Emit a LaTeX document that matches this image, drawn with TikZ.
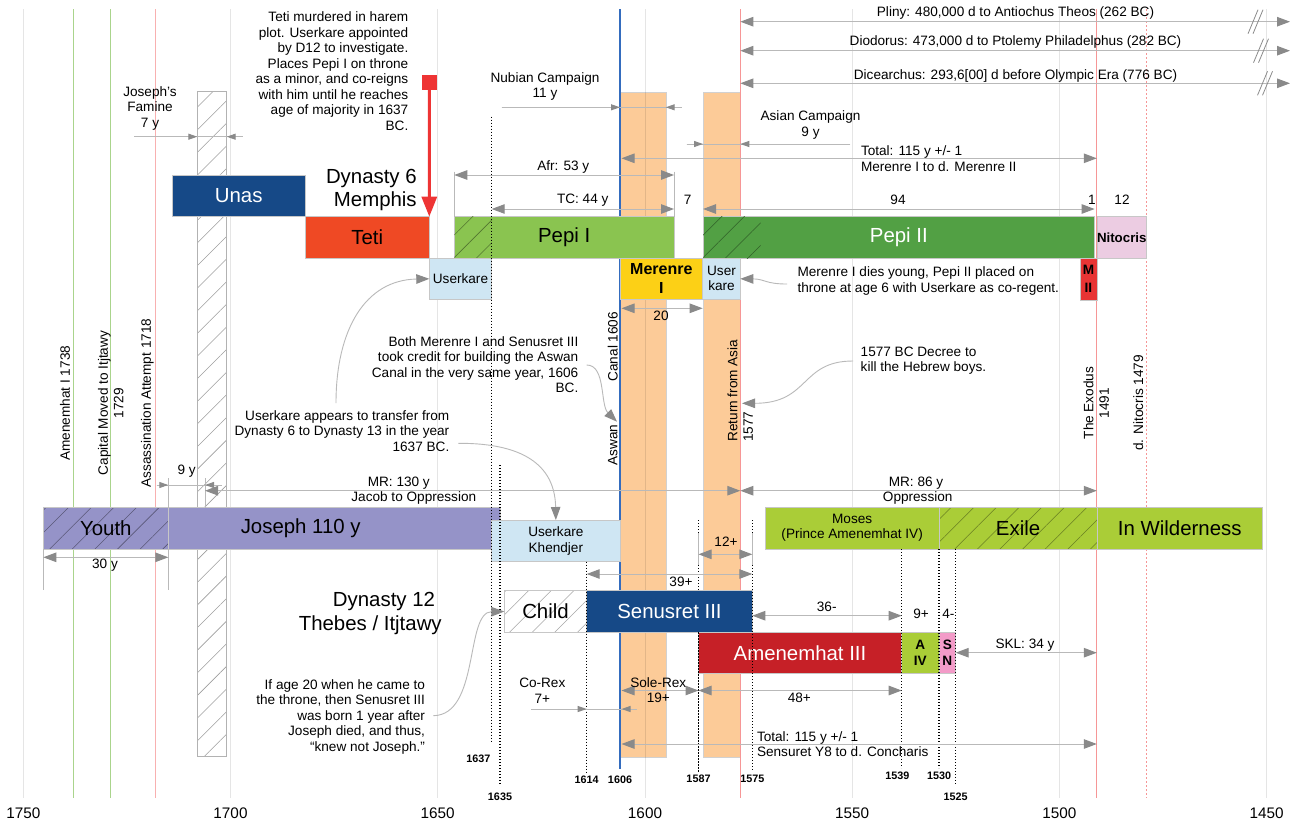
\documentclass[tikz,border=0pt]{standalone}
\usepackage{fontspec}
\setmainfont{Liberation Sans}
\usetikzlibrary{arrows.meta,patterns.meta}

\definecolor{lineG}{RGB}{185,185,185}
\definecolor{headG}{RGB}{138,138,138}
\definecolor{orangeC}{RGB}{252,203,152}
\definecolor{blueL}{RGB}{52,108,190}
\definecolor{redL}{RGB}{246,150,150}
\definecolor{greenL}{RGB}{170,212,140}
\definecolor{unasC}{RGB}{22,73,135}
\definecolor{tetiC}{RGB}{239,73,36}
\definecolor{pepiC}{RGB}{138,196,80}
\definecolor{pepiIIC}{RGB}{82,160,68}
\definecolor{nitC}{RGB}{236,204,226}
\definecolor{ltblue}{RGB}{207,230,243}
\definecolor{merC}{RGB}{252,208,22}
\definecolor{mIIC}{RGB}{232,52,52}
\definecolor{purpC}{RGB}{149,147,200}
\definecolor{mosesC}{RGB}{170,205,55}
\definecolor{amenC}{RGB}{198,32,39}
\definecolor{snC}{RGB}{243,155,200}
\definecolor{tetiArr}{RGB}{238,52,52}

\newcommand\fsm{\fontsize{13.6}{15.5}\selectfont}
\newcommand\fbig{\fontsize{20.4}{23.7}\selectfont}
\newcommand\fax{\fontsize{15.3}{17}\selectfont}
\newcommand\fyr{\fontsize{10.8}{12}\selectfont\bfseries}
\newcommand\fmer{\fontsize{16}{19}\selectfont\bfseries}

% a reign box given by its corners (x1,y1) (x2,y2)
\newcommand\tbox[7][]{%
  \pgfmathsetmacro\tbW{#5-#3}%
  \pgfmathsetmacro\tbH{#6-#4}%
  \pgfmathsetmacro\tbX{(#3+#5)/2}%
  \pgfmathsetmacro\tbY{(#4+#6)/2}%
  \node[box,minimum width=\tbW pt,minimum height=\tbH pt,#1] (#2) at (\tbX,\tbY) {#7};%
}

\tikzset{
  every node/.style={inner sep=0pt, outer sep=0pt, font=\fsm},
  box/.style={draw=black!22, line width=0.5pt, align=center},
  bigtip/.tip={Triangle[length=13pt,width=9.5pt,color=headG]},
  smtip/.tip={Triangle[length=9pt,width=6pt,color=headG]},
  dimline/.style={draw=lineG, line width=1pt},
  note/.style={draw=lineG, line width=0.9pt},
  dotline/.style={draw=black, line width=1.5pt, dash pattern=on 1.4pt off 1.6pt},
  hatchpat/.style={pattern={Lines[angle=45,distance=16pt,line width=0.55pt]}, pattern color=#1},
  tick/.style={draw=lineG, line width=1pt},
  yr/.style={font=\fyr},
}

\begin{document}
\begin{tikzpicture}[x=1pt,y=-1pt]
\fill[white] (0,0) rectangle (1292,825);
\path[use as bounding box] (0,0) rectangle (1292,825);

% campaign columns
\filldraw[fill=orangeC, draw=black!18, line width=0.4pt] (620,91.7) rectangle (665.7,756.7);
\filldraw[fill=orangeC, draw=black!18, line width=0.4pt] (703,91.7) rectangle (740.3,756.7);

% year grid
\foreach \gx in {23.3,230.5,437.7,645,852.2,1059.4,1266.7}
  \draw[black, draw opacity=0.1, line width=0.9pt] (\gx,9) -- (\gx,798);

% event lines
\draw[greenL, line width=0.9pt] (73,9) -- (73,798);
\draw[greenL, line width=0.9pt] (110.3,9) -- (110.3,798);
\draw[redL!75, line width=0.9pt] (155.9,9) -- (155.9,798);
\draw[redL, line width=0.9pt] (740.3,9) -- (740.3,798);
\draw[redL, line width=0.9pt] (1096.8,9) -- (1096.8,798);
\draw[redL, line width=0.9pt, dash pattern=on 2pt off 2pt] (1146.7,9) -- (1146.7,798);
\draw[blueL, line width=2.8pt] (620,9) -- (620,769);

% famine column
\draw[draw=black!30, line width=0.6pt, preaction={fill=white}, hatchpat=black!38] (197.3,91.7) rectangle (226.7,756.7);

% Dynasty 6 reigns
\tbox[fill=unasC, text=white, font=\fbig]{unas}{172.3}{175}{305}{216.7}{Unas}
\tbox[fill=tetiC, font=\fbig]{teti}{305}{216.7}{429.3}{258.3}{Teti}
\tbox[fill=pepiC, font=\fbig]{pepiI}{454.3}{216.7}{674}{258.3}{Pepi I}
\fill[hatchpat=black!40!pepiC] (454.3,216.7) rectangle (491.7,258.3);
\tbox[fill=pepiIIC, text=white, font=\fbig]{pepiII}{703}{216.7}{1094.6}{258.3}{Pepi II}
\fill[hatchpat=black!40!pepiIIC] (703,216.7) rectangle (760.7,258.3);
\tbox[fill=nitC, font={\fontsize{13.3}{15}\selectfont\bfseries}]{nitocris}{1096.8}{216.7}{1146.7}{258.3}{Nitocris}
\tbox[fill=ltblue]{userkareA}{429.3}{258.3}{491.7}{299.3}{Userkare}
\tbox[fill=merC, font=\fmer]{merenre}{620}{258.3}{702.7}{299.3}{Merenre\\I}
\tbox[fill=ltblue, font={\fontsize{13.6}{15}\selectfont}]{userkareB}{702.7}{258.3}{740.3}{299.3}{User\\kare}
\tbox[fill=mIIC, font={\fontsize{13.6}{18}\selectfont\bfseries}]{merII}{1080}{258.3}{1096.8}{300}{M\\II}

% Joseph and Moses
\tbox[preaction={fill=purpC}, hatchpat=black!40!purpC, font=\fbig]{youth}{43.3}{507.7}{168.3}{549}{Youth}
\tbox[fill=purpC]{joseph}{168.3}{507.7}{500}{549}{}
\node[font=\fbig] (josephT) at (300.7,528.3) {Joseph 110 y};
\tbox[fill=ltblue, font={\fontsize{13.6}{16}\selectfont}]{khendjer}{491.7}{520}{620}{561}{Userkare\\Khendjer}
\tbox[fill=mosesC, font={\fontsize{13.6}{15}\selectfont}]{moses}{765}{507.3}{939.3}{549}{Moses\\(Prince Amenemhat IV)}
\tbox[preaction={fill=mosesC}, hatchpat=black!38!mosesC, font=\fbig]{exile}{939.3}{507.3}{1096.8}{549}{Exile}
\tbox[fill=mosesC, font=\fbig]{wild}{1096.8}{507.3}{1262.7}{549}{In Wilderness}

% Dynasty 12 reigns
\tbox[preaction={fill=white}, hatchpat=black!35, font=\fbig]{child}{504.3}{590.7}{586.7}{632.3}{Child}
\tbox[fill=unasC, text=white, font=\fbig]{senusret}{586.7}{590.7}{752.3}{632.3}{Senusret III}
\tbox[fill=amenC, text=white, font=\fbig]{amenIII}{698.3}{632.3}{901.7}{673.3}{Amenemhat III}
\tbox[fill=mosesC, font={\fontsize{13.6}{15.7}\selectfont\bfseries}]{aIV}{901.7}{632.3}{939}{673.3}{A\\IV}
\tbox[fill=snC, font={\fontsize{13.6}{15.7}\selectfont\bfseries}]{sn}{939}{632.3}{955.7}{673.3}{S\\N}

% dated dotted markers
\draw[dotline] (491.7,116.7) -- (491.7,742.7);
\draw[dotline] (500,465) -- (500,785);
\draw[dotline] (586.7,561.7) -- (586.7,773);
\draw[dotline] (698.5,520) -- (698.5,590.7);
\draw[dotline] (698.5,632.3) -- (698.5,773);
\draw[dotline] (752.3,520) -- (752.3,770);
\draw[dotline] (901.7,549) -- (901.7,768);
\draw[dotline] (939,549) -- (939,768);
\draw[dotline] (955.7,549) -- (955.7,785);

\node[yr] (y1637) at (478.3,758.3) {1637};
\node[yr] (y1635) at (500,796.7) {1635};
\node[yr] (y1614) at (586.7,779.3) {1614};
\node[yr] (y1606) at (620,779.3) {1606};
\node[yr] (y1587) at (698.5,778.7) {1587};
\node[yr] (y1575) at (752.3,779.3) {1575};
\node[yr] (y1539) at (897.3,775.3) {1539};
\node[yr] (y1530) at (939,775.3) {1530};
\node[yr] (y1525) at (955.7,796.3) {1525};

% tick lines of the measures
\draw[tick] (454.3,171.7) -- (454.3,216.7);
\draw[tick] (674,171.7) -- (674,216.7);
\draw[tick] (168.3,478.3) -- (168.3,507.7);
\draw[tick] (205,478.3) -- (205,507.7);
\draw[tick] (168.3,549) -- (168.3,590);
\draw[tick] (43.3,549) -- (43.3,590);
\draw[tick] (698.5,533) -- (698.5,565);
\draw[tick] (752.3,533) -- (752.3,565);

% measure end points
\coordinate (plinyL) at (740.3,21.7);  \coordinate (plinyR) at (1290,21.7);
\coordinate (diodL) at (740.3,50.7);   \coordinate (diodR) at (1290,50.7);
\coordinate (dicL) at (740.3,83.3);    \coordinate (dicR) at (1290,83.3);
\coordinate (nubA) at (501.7,107.3); \coordinate (nubB) at (620,107.3);
\coordinate (nubC) at (665.7,107.3); \coordinate (nubD) at (681.7,107.3);
\coordinate (famA) at (134.3,136.7); \coordinate (famB) at (197.3,136.7);
\coordinate (famC) at (226.7,136.7); \coordinate (famD) at (242.7,136.7);
\coordinate (asA) at (686.7,144); \coordinate (asB) at (703,144);
\coordinate (asC) at (740.3,144); \coordinate (asD) at (850.4,144);
\coordinate (totL) at (621.5,158.3); \coordinate (totR) at (1096.8,158.3);
\coordinate (afrL) at (454.3,175); \coordinate (afrR) at (674,175);
\coordinate (tcL) at (491.7,209); \coordinate (tcR) at (674,209);
\coordinate (p2L) at (703,209); \coordinate (p2R) at (1094.6,209);
\coordinate (twL) at (621.5,308.3); \coordinate (twR) at (702.7,308.3);
\coordinate (nyA) at (156.7,485); \coordinate (nyB) at (168.3,485);
\coordinate (nyC) at (205,485); \coordinate (nyD) at (221.7,485);
\coordinate (mr1L) at (205,490.7); \coordinate (mr1R) at (740.3,490.7);
\coordinate (mr2L) at (740.3,490.7); \coordinate (mr2R) at (1096.8,490.7);
\coordinate (thL) at (43.3,557.3); \coordinate (thR) at (168.3,557.3);
\coordinate (twpL) at (698.5,554.3); \coordinate (twpR) at (752.3,554.3);
\coordinate (tnL) at (586.7,574); \coordinate (tnR) at (752.3,574);
\coordinate (tsL) at (752.3,615.7); \coordinate (tsR) at (901.7,615.7);
\coordinate (sklL) at (955.7,652.7); \coordinate (sklR) at (1096.8,652.7);
\coordinate (srL) at (621.5,690.5); \coordinate (srR) at (698.5,690.5);
\coordinate (feL) at (698.5,690.5); \coordinate (feR) at (901.7,690.5);
\coordinate (crA) at (531,709); \coordinate (crB) at (586.7,709);
\coordinate (crC) at (621.5,709); \coordinate (crD) at (636.7,709);
\coordinate (tbL) at (621.5,744); \coordinate (tbR) at (1096.8,744);

% ancient day counts
\draw[dimline, arrows={bigtip-bigtip}] (plinyL) -- (plinyR);
\draw[dimline, arrows={bigtip-bigtip}] (diodL) -- (diodR);
\draw[dimline, arrows={bigtip-bigtip}] (dicL) -- (dicR);
\foreach \bx/\by in {1255.5/21.7, 1261/50.7, 1265/83.3} {
  \draw[headG, line width=0.8pt] (\bx-7.5,\by+12) -- (\bx+2.5,\by-12);
  \draw[headG, line width=0.8pt] (\bx-2.5,\by+12) -- (\bx+7.5,\by-12);
}

% campaign and reign measures
\draw[dimline] (nubA) -- (nubD);
\draw[dimline, arrows={-smtip}] (nubA) -- (nubB);
\draw[dimline, arrows={-smtip}] (nubD) -- (nubC);
\draw[dimline] (famA) -- (famD);
\draw[dimline, arrows={-smtip}] (famA) -- (famB);
\draw[dimline, arrows={-smtip}] (famD) -- (famC);
\draw[dimline] (asA) -- (asD);
\draw[dimline, arrows={-smtip}] (asA) -- (asB);
\draw[dimline, arrows={-smtip}] (asD) -- (asC);
\draw[dimline, arrows={bigtip-bigtip}] (totL) -- (totR);
\draw[dimline, arrows={bigtip-bigtip}] (afrL) -- (afrR);
\draw[dimline, arrows={bigtip-bigtip}] (tcL) -- (tcR);
\draw[dimline, arrows={bigtip-bigtip}] (p2L) -- (p2R);
\draw[dimline, arrows={bigtip-bigtip}] (twL) -- (twR);
\draw[dimline] (nyA) -- (nyD);
\draw[dimline, arrows={-smtip}] (nyA) -- (nyB);
\draw[dimline, arrows={-smtip}] (nyD) -- (nyC);
\draw[dimline, arrows={bigtip-bigtip}] (mr1L) -- (mr1R);
\draw[dimline, arrows={bigtip-bigtip}] (mr2L) -- (mr2R);
\draw[dimline, arrows={bigtip-bigtip}] (thL) -- (thR);
\draw[dimline, arrows={bigtip-bigtip}] (twpL) -- (twpR);
\draw[dimline, arrows={bigtip-bigtip}] (tnL) -- (tnR);
\draw[dimline, arrows={bigtip-bigtip}] (tsL) -- (tsR);
\draw[dimline, arrows={bigtip-bigtip}] (sklL) -- (sklR);
\draw[dimline, arrows={bigtip-bigtip}] (srL) -- (srR);
\draw[dimline, arrows={bigtip-bigtip}] (feL) -- (feR);
\draw[dimline] (crA) -- (crD);
\draw[dimline, arrows={-smtip}] (crA) -- (crB);
\draw[dimline, arrows={-smtip}] (crD) -- (crC);
\draw[dimline, arrows={bigtip-bigtip}] (tbL) -- (tbR);

% Teti's murder
\node[fill=tetiArr, minimum size=15pt] (tetiSq) at (429.3,82.5) {};
\draw[tetiArr, line width=3pt, arrows={-{Triangle[length=20pt,width=15pt]}}] (tetiSq.south) -- (teti.north east);

% notes
\node[align=right, anchor=east] (tetiNote) at (408.3,71) {Teti murdered in harem\\plot. Userkare appointed\\by D12 to investigate.\\Places Pepi I on throne\\as a minor, and co-reigns\\with him until he reaches\\age of majority in 1637\\BC.};
\node[align=center] (famNote) at (150,108) {Joseph's\\Famine\\7 y};
\node[align=right, anchor=east, font=\fbig] (dyn6) at (416.7,190) {Dynasty 6\\Memphis};
\node[align=center] (nubT) at (545,86.7) {Nubian Campaign\\11 y};
\node[align=center] (asT) at (810.5,125) {Asian Campaign\\9 y};
\node[align=left, anchor=west] (totT) at (861,158.5) {Total: 115 y +/- 1\\Merenre I to d. Merenre II};
\node (plinyT) at (1015.5,13.3) {Pliny: 480,000 d to Antiochus Theos (262 BC)};
\node (diodT) at (1015.5,42.3) {Diodorus: 473,000 d to Ptolemy Philadelphus (282 BC)};
\node (dicT) at (1015.5,76) {Dicearchus: 293,6[00] d before Olympic Era (776 BC)};
\node (afrT) at (563.3,166.7) {Afr: 53 y};
\node (tcT) at (582.7,200) {TC: 44 y};
\node (sevT) at (687.7,200) {7};
\node (nfT) at (898,200) {94};
\node (oneT) at (1092,200) {1};
\node (twelveT) at (1122,200) {12};
\node (twentyT) at (661,316) {20};
\node[align=left, anchor=west] (merNote) at (797.5,281) {Merenre I dies young, Pepi II placed on\\throne at age 6 with Userkare as co-regent.};
\node[align=right, anchor=east] (aswNote) at (578.3,364.5) {Both Merenre I and Senusret III\\took credit for building the Aswan\\Canal in the very same year, 1606\\BC.};
\node[align=right, anchor=east] (ukNote) at (449.3,431) {Userkare appears to transfer from\\Dynasty 6 to Dynasty 13 in the year\\1637 BC.};
\node[align=left, anchor=west] (decNote) at (860.7,360.5) {1577 BC Decree to\\kill the Hebrew boys.};

% rotated event labels
\node[rotate=90] (amenI) at (65,403.3) {Amenemhat I 1738};
\node[rotate=90, align=center] (capital) at (110.8,403) {Capital Moved to Itjtawy\\1729};
\node[rotate=90] (assas) at (147.3,403) {Assassination Attempt 1718};
\node[rotate=90] (aswanA) at (612.7,445) {Aswan};
\node[rotate=90] (aswanB) at (612.7,346.7) {Canal 1606};
\node[rotate=90, align=left, anchor=west] (retAsia) at (740.2,441.7) {Return from Asia\\1577};
\node[rotate=90, align=center] (exodus) at (1096.3,403) {The Exodus\\1491};
\node[rotate=90] (dnit) at (1138.3,403) {d. Nitocris 1479};

\node (nyT) at (186.7,471) {9 y};
\node (mr1T) at (398.8,482.7) {MR: 130 y};
\node (mr1S) at (413.8,498.3) {Jacob to Oppression};
\node (mr2T) at (916,482.7) {MR: 86 y};
\node (mr2S) at (917.7,498.3) {Oppression};
\node (thT) at (105,565) {30 y};
\node (twpT) at (726,541.7) {12+};
\node (tnT) at (681,581.7) {39+};
\node[align=right, anchor=east, font=\fbig] (dyn12) at (441.7,613.7) {Dynasty 12\hspace*{6.7pt}\\Thebes / Itjtawy};
\node (tsT) at (826.7,607.3) {36-};
\node (npT) at (921,614.3) {9+};
\node (fmT) at (948.3,614.3) {4-};
\node (sklT) at (1025,645) {SKL: 34 y};
\node[align=right, anchor=east] (childNote) at (425,716.5) {If age 20 when he came to\\the throne, then Senusret III\\was born 1 year after\\Joseph died, and thus,\\“knew not Joseph.”};
\node[align=center] (crT) at (542.3,690.8) {Co-Rex\\7+};
\node[align=center] (srT) at (658.3,690.2) {Sole-Rex\\19+};
\node (feT) at (799.3,698.3) {48+};
\node[align=left, anchor=west] (totB) at (757,744) {Total: 115 y +/- 1\\Sensuret Y8 to d. Concharis};

% note pointers
\coordinate (ukaS) at (787,284);
\coordinate (ukbS) at (336,403);
\coordinate (aswS) at (586.7,365);
\coordinate (aswE) at (617,421.7);
\coordinate (khS) at (458.3,443.3);
\coordinate (decS) at (853,361);
\coordinate (decE) at (742,403.3);
\coordinate (chS) at (433.3,715.7);
\draw[note, arrows={-bigtip}] (ukaS) .. controls (765,284) and (765,279) .. (userkareB.east);
\draw[note, arrows={-bigtip}] (ukbS) .. controls (336,330) and (365,280) .. (userkareA.west);
\draw[note, arrows={-bigtip}] (aswS) .. controls (606,365) and (600,405) .. (aswE);
\draw[note, arrows={-bigtip}] (khS) .. controls (530,443) and (555,470) .. (khendjer.north);
\draw[note, arrows={-bigtip}] (decS) .. controls (800,361) and (810,403.3) .. (decE);
\draw[note, arrows={-bigtip}] (chS) .. controls (480,715) and (465,612) .. (child.west);

% year axis
\foreach \ax/\lab in {23.3/1750,230.5/1700,437.7/1650,645/1600,852.2/1550,1059.4/1500,1266.7/1450}
  \node[font=\fax] (ax\lab) at (\ax,813.3) {\lab};
\end{tikzpicture}
\end{document}
